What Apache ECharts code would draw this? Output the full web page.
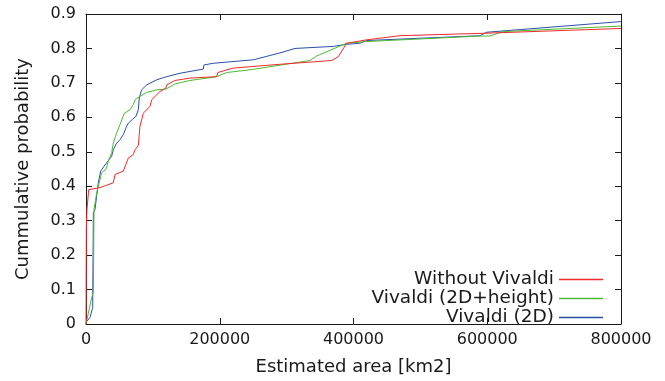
<!DOCTYPE html>
<html>
<head>
<meta charset="utf-8">
<script src="https://cdn.jsdelivr.net/npm/echarts@6/dist/echarts.min.js"></script>
<style>
  html, body { margin: 0; padding: 0; background: #fff; }
  #chart { width: 665px; height: 381px; }
</style>
</head>
<body>
<div id="chart"></div>
<script>
// CDF points: [area km2, probability]
const withoutVivaldi = [
  [0, 0], [500, 0.28], [1500, 0.333], [4000, 0.39], [21000, 0.396], [40800, 0.41],
  [43400, 0.434], [55800, 0.444], [63300, 0.482], [70800, 0.492], [73300, 0.506],
  [78200, 0.518], [80700, 0.574], [85700, 0.612], [95700, 0.632], [98200, 0.651],
  [110600, 0.675], [119600, 0.685], [120600, 0.694], [133000, 0.707], [155500, 0.714],
  [195400, 0.718], [196900, 0.73], [220200, 0.743], [290000, 0.754], [367300, 0.765],
  [377300, 0.776], [389700, 0.815], [419600, 0.825], [469400, 0.837], [594000, 0.844],
  [800000, 0.858]
];
const vivaldi2DHeight = [
  [0, 0], [8500, 0.077], [11000, 0.092], [12000, 0.333], [16000, 0.381], [21000, 0.42],
  [23400, 0.439], [29900, 0.449], [33400, 0.473], [38400, 0.497], [40800, 0.525],
  [45800, 0.555], [50800, 0.579], [57300, 0.612], [65800, 0.622], [70800, 0.637],
  [73300, 0.651], [80700, 0.661], [90700, 0.672], [105700, 0.68], [119600, 0.682],
  [133000, 0.697], [155500, 0.707], [195400, 0.718], [210300, 0.73], [245200, 0.738],
  [334900, 0.765], [344900, 0.778], [389700, 0.815], [419600, 0.82], [589000, 0.836],
  [604000, 0.836], [623900, 0.849], [800000, 0.865]
];
const vivaldi2D = [
  [0, 0.005], [6000, 0.019], [10000, 0.048], [11000, 0.323], [13500, 0.333], [18400, 0.41],
  [22000, 0.444], [26900, 0.458], [30900, 0.468], [38400, 0.487], [40800, 0.506],
  [45800, 0.525], [50800, 0.535], [55800, 0.55], [60800, 0.574], [63300, 0.583],
  [69800, 0.595], [74800, 0.603], [78200, 0.622], [79700, 0.656], [83200, 0.68],
  [90700, 0.694], [105700, 0.709], [120600, 0.718], [140500, 0.728], [175400, 0.74],
  [176400, 0.752], [190300, 0.757], [250100, 0.767], [290000, 0.787], [312500, 0.8],
  [370000, 0.806], [389700, 0.812], [409600, 0.815], [419600, 0.823], [589000, 0.837],
  [599000, 0.847], [800000, 0.878]
];
const seriesNames = ['Without Vivaldi', 'Vivaldi (2D+height)', 'Vivaldi (2D)'];
const seriesColors = ['#f02a2a', '#4cbb35', '#2b4fa6'];

const font = 'DejaVu Sans';
const ink = '#1a1a1a';

const chart = echarts.init(document.getElementById('chart'), null, { renderer: 'canvas' });

const baseX = {
  type: 'value', min: 0, max: 800000, interval: 200000,
  splitLine: { show: false },
  axisLine: { show: true, onZero: false, lineStyle: { color: ink, width: 1 } },
  axisTick: { show: true, inside: true, length: 6, lineStyle: { color: ink } }
};
const baseY = {
  type: 'value', min: 0, max: 0.9, interval: 0.1,
  splitLine: { show: false },
  axisLine: { show: true, onZero: false, lineStyle: { color: ink, width: 1 } },
  axisTick: { show: true, inside: true, length: 6, lineStyle: { color: ink } }
};

chart.setOption({
  animation: false,
  backgroundColor: '#fff',
  grid: { left: 86, right: 44, top: 14, bottom: 56 },
  xAxis: [
    Object.assign({}, baseX, {
      position: 'bottom',
      name: 'Estimated area [km2]', nameLocation: 'middle', nameGap: 34,
      nameTextStyle: { fontFamily: font, fontSize: 18, color: ink },
      axisLabel: { fontFamily: font, fontSize: 16, color: ink, margin: 8,
        formatter: v => String(v) }
    }),
    Object.assign({}, baseX, { position: 'top', axisLabel: { show: false } })
  ],
  yAxis: [
    Object.assign({}, baseY, {
      position: 'left',
      name: 'Cummulative probability', nameLocation: 'middle', nameGap: 54,
      nameTextStyle: { fontFamily: font, fontSize: 18, color: ink },
      axisLabel: { fontFamily: font, fontSize: 16, color: ink, margin: 10 }
    }),
    Object.assign({}, baseY, { position: 'right', axisLabel: { show: false } })
  ],
  legend: {
    orient: 'vertical', right: 62, top: 270, align: 'right', padding: 0,
    icon: 'rect', itemWidth: 44, itemHeight: 1.3, itemGap: 0,
    textStyle: { fontFamily: font, fontSize: 18.5, color: ink, lineHeight: 16.5 },
    data: seriesNames
  },
  series: [withoutVivaldi, vivaldi2DHeight, vivaldi2D].map((d, i) => ({
    name: seriesNames[i], type: 'line', data: d,
    showSymbol: false, symbol: 'none',
    lineStyle: { color: seriesColors[i], width: 1 },
    itemStyle: { color: seriesColors[i] },
    z: 3 - i
  }))
});
</script>
</body>
</html>
